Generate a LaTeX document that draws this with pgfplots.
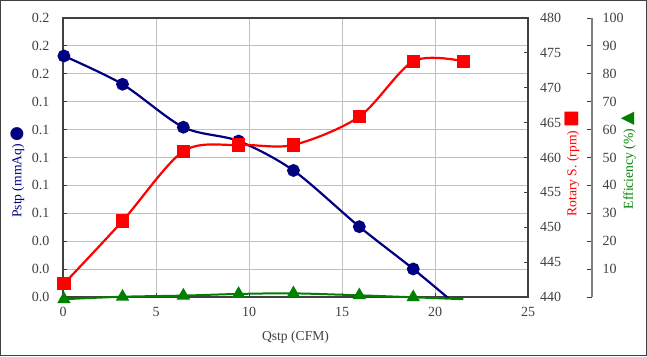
\documentclass[border=0pt]{standalone}
\usepackage{pgfplots}
\pgfplotsset{compat=1.18}
\usepackage{pgfplotstable}
\usepackage{fontspec}
\setmainfont{Liberation Serif}
\newfontfamily\symfont{DejaVu Sans}
\definecolor{navy}{HTML}{000080}
\definecolor{myred}{HTML}{FF0000}
\definecolor{mygreen}{HTML}{008000}
\definecolor{axisgray}{HTML}{404040}
\definecolor{gridgray}{HTML}{C0C0C0}
\definecolor{effgray}{HTML}{808080}

\pgfplotstableread{
x p r e
0.05 0.1728 441.9 -0.8
3.20 0.1525 450.9 0.1
6.47 0.1217 460.9 0.5
9.44 0.1118 461.8 1.1
12.39 0.0907 461.8 1.3
15.93 0.0504 465.85 0.6
18.83 0.0201 473.8 -0.1
21.52 -0.0099 473.8 -0.8
}\fandata

\pgfplotsset{
  common/.style={
    scale only axis, width=465pt, height=279pt,
    at={(63pt,59pt)}, anchor=south west,
    xmin=0, xmax=25,
    /pgf/number format/assume math mode=true,
    tick align=inside, major tick length=4pt,
    tick style={axisgray, line width=0.8pt},
    ticklabel style={font=\fontsize{14}{16}\selectfont, text=axisgray},
  },
}

\begin{document}
\begin{tikzpicture}
\useasboundingbox (0,0) rectangle (647pt,356pt);
\draw[axisgray, line width=1pt] (0.5pt,0.5pt) rectangle (646.5pt,355.5pt);

\begin{axis}[common,
  ymin=0, ymax=0.2,
  xtick={0,5,10,15,20,25},
  ytick={0,0.02,0.04,0.06,0.08,0.1,0.12,0.14,0.16,0.18,0.2},
  yticklabels={0.0,0.0,0.0,0.1,0.1,0.1,0.1,0.1,0.2,0.2,0.2},
  tick pos=left,
  grid=major, major grid style={gridgray, line width=1pt},
  axis line style={axisgray, line width=1.2pt},
  yticklabel style={inner sep=0pt, xshift=-13.5pt},
  xticklabel style={inner sep=0pt, yshift=-9.7pt},
  xlabel={Qstp (CFM)},
  every axis x label/.style={at={(axis description cs:0.5,0)}, anchor=base, yshift=-43.7pt, font=\fontsize{13.6}{16}\selectfont, text=axisgray},
  ylabel={Pstp (mmAq)\hspace{3pt}{\symfont\fontsize{17}{17}\selectfont ●}},
  every axis y label/.style={at={(axis description cs:0,0.283)}, xshift=-45.5pt, rotate=90, anchor=west, inner sep=0pt, font=\fontsize{13.6}{16}\selectfont, text=navy},
]
\addplot[navy, line width=2.2pt, smooth, mark=*, mark size=5.3pt, mark indices={1,2,3,4,5,6,7}, mark options={solid, fill=navy}] table[x=x, y=p] {\fandata};
\end{axis}

\begin{axis}[common,
  ymin=440, ymax=480,
  axis x line=none, axis y line*=right,
  ytick={440,445,...,480},
  axis line style={axisgray, line width=1.2pt},
  yticklabel style={inner sep=0pt, xshift=12pt, anchor=west},
  ylabel={Rotary S. (rpm)\hspace{3pt}{\symfont\fontsize{18}{18}\selectfont ■}},
  every axis y label/.style={at={(axis description cs:1,0.2878)}, xshift=44pt, rotate=90, anchor=west, inner sep=0pt, font=\fontsize{13.6}{16}\selectfont, text=myred},
]
\addplot[myred, line width=2.2pt, smooth, mark=square*, mark size=5.5pt, mark options={solid, fill=myred}] table[x=x, y=r] {\fandata};
\end{axis}

\begin{axis}[common,
  ymin=0, ymax=100, clip=false,
  axis x line=none, axis y line*=right,
  axis y line shift=64pt,
  ytick={0,10,...,100},
  yticklabels={{},10,20,30,40,50,60,70,80,90,100},
  major tick length=5.5pt,
  axis line style={effgray, line width=1.2pt},
  yticklabel style={inner sep=0pt, xshift=10.5pt, anchor=west},
  ylabel={Efficiency (\%)\hspace{3pt}{\symfont\fontsize{17.5}{17.5}\selectfont ▲}},
  every axis y label/.style={at={(axis description cs:1,0.3143)}, xshift=100.8pt, rotate=90, anchor=west, inner sep=0pt, font=\fontsize{13.6}{16}\selectfont, text=mygreen},
]
\addplot[mygreen, line width=2pt, smooth, mark=triangle*, mark size=5.8pt, mark indices={1,2,3,4,5,6,7}, mark options={solid, fill=mygreen}] table[x=x, y=e] {\fandata};
\end{axis}
\end{tikzpicture}
\end{document}
